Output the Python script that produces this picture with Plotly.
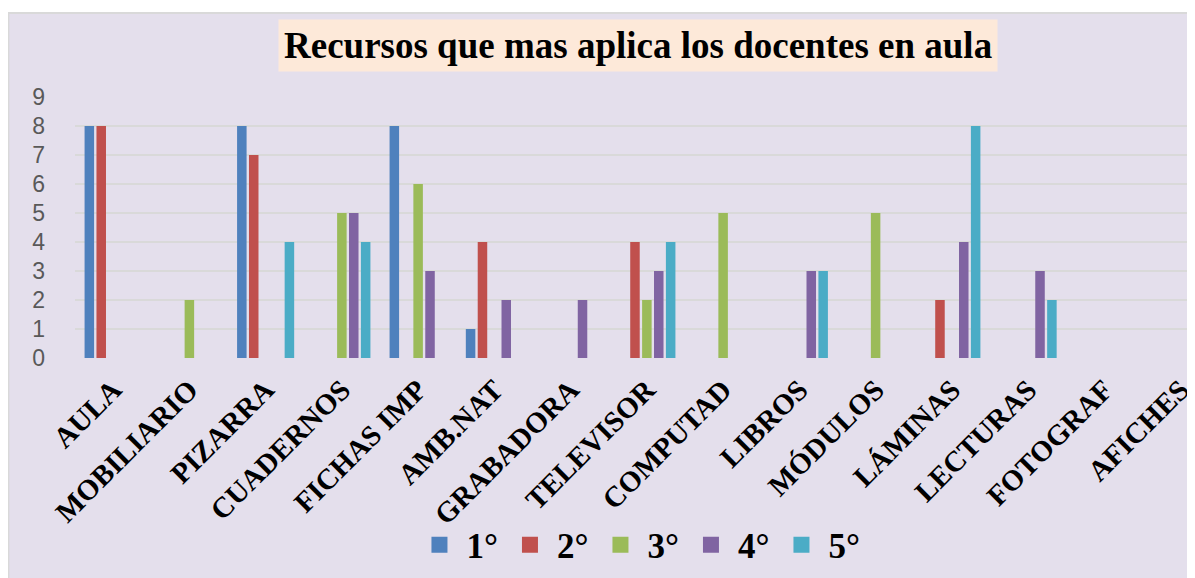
import plotly.graph_objects as go

categories = ["AULA", "MOBILIARIO", "PIZARRA", "CUADERNOS", "FICHAS IMP", "AMB.NAT",
              "GRABADORA", "TELEVISOR", "COMPUTAD", "LIBROS", "MÓDULOS", "LÁMINAS",
              "LECTURAS", "FOTOGRAF", "AFICHES"]
series_names = ["1°", "2°", "3°", "4°", "5°"]
g1 = [8, None, 8, None, 8, 1, None, None, None, None, None, None, None, None, None]
g2 = [8, None, 7, None, None, 4, None, 4, None, None, None, 2, None, None, None]
g3 = [None, 2, None, 5, 6, None, None, 2, 5, None, 5, None, None, None, None]
g4 = [None, None, None, 5, 3, 2, 2, 3, None, 3, None, 4, 3, None, None]
g5 = [None, None, 4, 4, None, None, None, 4, None, 3, None, 8, 2, None, None]
y_ticks = list(range(0, 10))
title_text = "Recursos que mas aplica los docentes en aula"

colors = ["#4F81BD", "#C0504D", "#9BBB59", "#8064A2", "#4BACC6"]
serif = "Liberation Serif"

W, H = 1195, 578
ML, MT, MR, MB = 67, 89, 8, 228
PW = W - ML - MR
PH = H - MT - MB

fig = go.Figure()
for name, vals, col in zip(series_names, [g1, g2, g3, g4, g5], colors):
    fig.add_trace(go.Bar(x=categories, y=vals, name=name, marker_color=col,
                         marker_line_width=0, legendgroup=name, showlegend=False))
# legend entries (larger square swatches)
for name, col in zip(series_names, colors):
    fig.add_trace(go.Scatter(x=[None], y=[None], mode="markers", name=name,
                             legendgroup=name,
                             marker=dict(symbol="square", size=16, color=col)))

fig.add_shape(type="rect", xref="paper", yref="paper",
              x0=(0 - ML) / PW, x1=1.05, y0=-1.2, y1=1 + (MT - 5) / PH,
              fillcolor="#E4DFEC", line=dict(color="#D9D9D9", width=2), layer="below")

fig.add_annotation(text=title_text, xref="paper", yref="paper",
                   x=(633 - ML) / PW, y=1 + (MT - 37) / PH, yanchor="middle",
                   xanchor="center", showarrow=False,
                   font=dict(family=serif, size=37, color="black", weight="bold"),
                   bgcolor="#FDE9D9", borderpad=5)

fig.update_layout(
    width=W, height=H,
    paper_bgcolor="white", plot_bgcolor="rgba(0,0,0,0)",
    margin=dict(l=ML, r=MR, t=MT, b=MB),
    barmode="group", bargap=0.22, bargroupgap=0.2,
    showlegend=True,
    legend=dict(orientation="h", x=(634 - ML) / PW, xanchor="center",
                y=-(537 - (MT + PH)) / PH, yanchor="middle",
                font=dict(family=serif, size=35, color="black", weight="bold"),
                bgcolor="rgba(0,0,0,0)", itemwidth=44, tracegroupgap=0),
    xaxis=dict(range=[-0.5, 14.11], tickangle=-45, showgrid=False, zeroline=False,
               showline=False, ticks="", ticklabelstandoff=8,
               tickfont=dict(family=serif, size=29, color="black", weight="bold")),
    yaxis=dict(range=[0, 9], tickvals=y_ticks, showgrid=True, gridcolor="#D9D9D9",
               gridwidth=1.5, zeroline=False, showline=False, ticks="",
               ticklabelstandoff=29,
               tickfont=dict(family="Liberation Sans", size=23, color="#595959")),
)

fig.write_html("out.html")
